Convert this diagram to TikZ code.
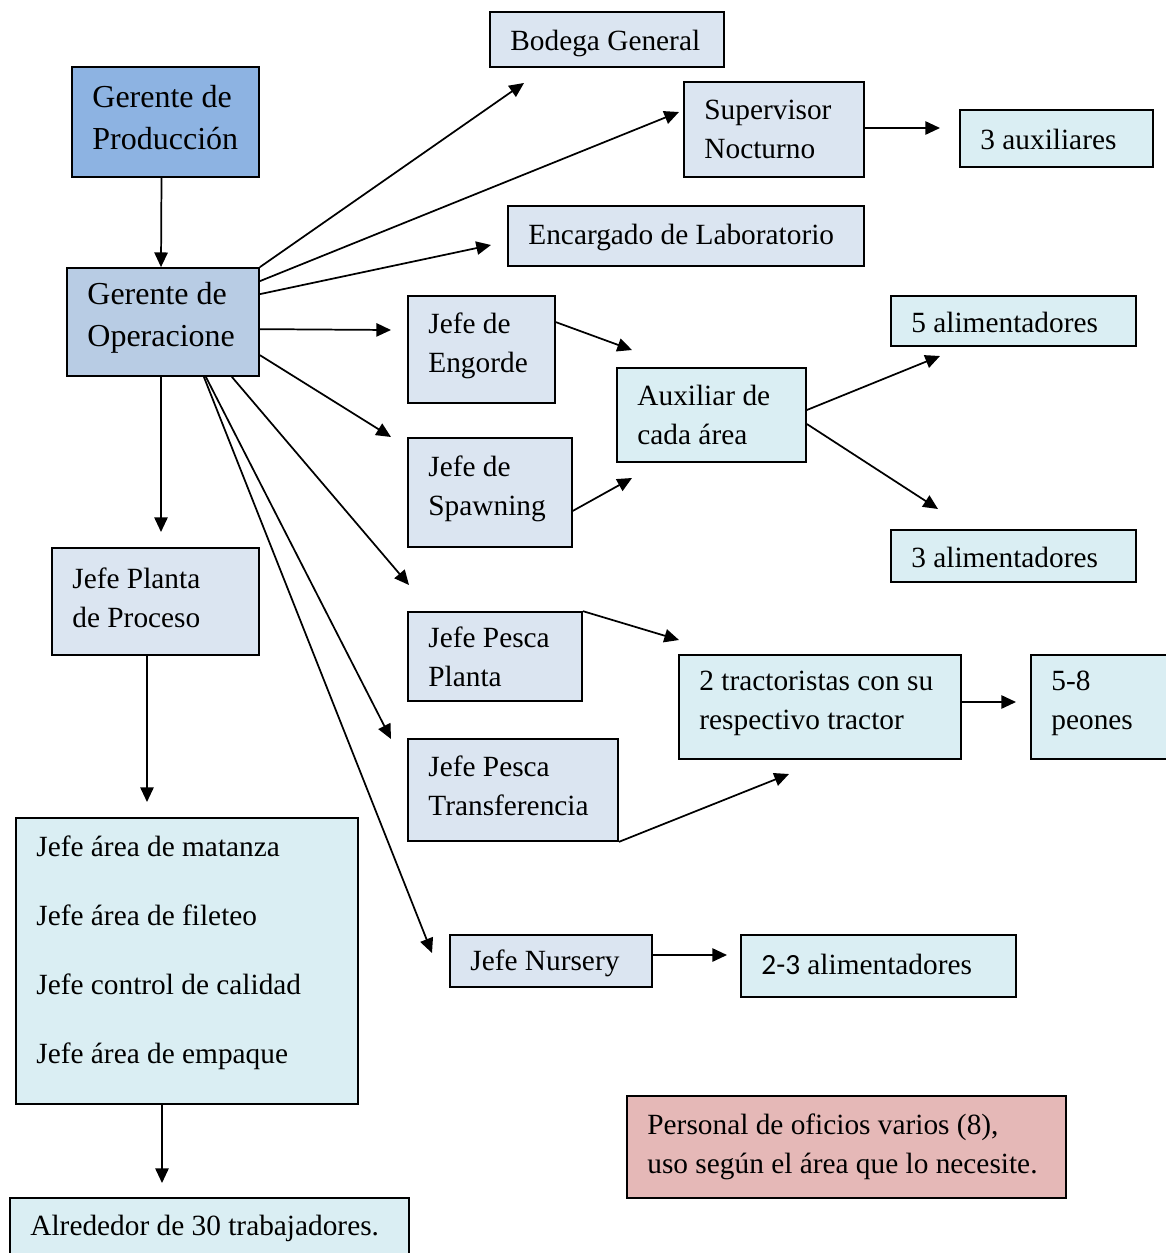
\documentclass[tikz,border=0pt]{standalone}
\usepackage{fontspec}
\setmainfont{Liberation Serif}
\newfontfamily\calib{Carlito}
\usetikzlibrary{arrows.meta,calc}
\definecolor{cGP}{HTML}{8DB3E2}
\definecolor{cGO}{HTML}{B8CCE4}
\definecolor{cJ}{HTML}{DBE5F1}
\definecolor{cA}{HTML}{DAEEF3}
\definecolor{cR}{HTML}{E5B8B7}
\tikzset{
  box/.style={draw, line width=1.3pt, inner sep=0pt},
  txt/.style={anchor=west, inner sep=0pt, align=left,
    font=\fontsize{22}{29.25}\selectfont},
  bigfont/.style={font=\fontsize{24}{31.5}\selectfont},
  arr/.style={-{Triangle[length=11pt,width=10pt]}, line width=1.3pt},
}
% #1 name, #2-#5 x1 y1 x2 y2 (px), #6 fill, #7 text style, #8 text
\newcommand\mkbox[8]{%
  \pgfmathsetmacro\bW{(#4-#2)*0.75}%
  \pgfmathsetmacro\bH{(#5-#3)*0.75}%
  \node[box,fill=#6,minimum width=\bW pt,minimum height=\bH pt]
    (#1) at ({(#2+#4)/2},{(#3+#5)/2}) {};
  \node[txt,#7] (#1-t) at ($(#1.west)+(21,-4)$) {#8};}
\begin{document}
\begin{tikzpicture}[x=0.75pt,y=-0.75pt]
\useasboundingbox (0,0) rectangle (1166,1253);
\clip (0,0) rectangle (1166,1253);
\fill[white] (0,0) rectangle (1166,1253);
% boxes
\mkbox{gp}{72}{67}{259}{177}{cGP}{bigfont}{Gerente de\\Producción}
\mkbox{go}{67}{268}{259}{376}{cGO}{bigfont}{Gerente de\\Operacione}
\mkbox{bg}{490}{12}{724}{67}{cJ}{yshift=-6pt}{Bodega General}
\mkbox{sn}{684}{82}{864}{177}{cJ}{yshift=-3pt}{Supervisor\\Nocturno}
\mkbox{aux3}{960}{110}{1153}{167}{cA}{yshift=-4pt}{3 auxiliares}
\mkbox{lab}{508}{206}{864}{266}{cJ}{yshift=-4pt}{Encargado de Laboratorio}
\mkbox{eng}{408}{296}{555}{403}{cJ}{}{Jefe de\\Engorde}
\mkbox{spw}{408}{438}{572}{547}{cJ}{}{Jefe de\\Spawning}
\mkbox{aux}{617}{368}{806}{462}{cA}{yshift=-3pt}{Auxiliar de\\cada área}
\mkbox{al5}{891}{296}{1136}{346}{cA}{yshift=-4pt}{5 alimentadores}
\mkbox{al3}{891}{530}{1136}{582}{cA}{yshift=-4pt}{3 alimentadores}
\mkbox{jplp}{52}{548}{259}{655}{cJ}{}{Jefe Planta\\de Proceso}
\mkbox{jpesp}{408}{612}{582}{701}{cJ}{yshift=-3pt}{Jefe Pesca\\Planta}
\mkbox{jpest}{408}{739}{618}{841}{cJ}{}{Jefe Pesca\\Transferencia}
\mkbox{trac}{679}{655}{961}{759}{cA}{}{2 tractoristas con su\\respectivo tractor}
\mkbox{peo}{1031}{655}{1178}{759}{cA}{}{5-8\\peones}
\mkbox{big}{16}{818}{358}{1104}{cA}{font=\fontsize{22}{51.75}\selectfont, yshift=3pt}{Jefe área de matanza\\Jefe área de fileteo\\Jefe control de calidad\\Jefe área de empaque}
\mkbox{alr}{10}{1198}{409}{1262}{cA}{yshift=-2pt}{Alrededor de 30 trabajadores.}
\mkbox{nur}{450}{935}{652}{987}{cJ}{yshift=-5pt}{Jefe Nursery}
\mkbox{al23}{741}{935}{1016}{997}{cA}{yshift=-1.5pt}{{\calib 2-3} alimentadores}
\mkbox{pers}{627}{1096}{1066}{1198}{cR}{yshift=-3pt}{Personal de oficios varios (8),\\uso según el área que lo necesite.}
% free arrow ends
\coordinate (e-bg) at (524,83);
\coordinate (e-sn) at (679,112);
\coordinate (e-lab) at (491,245);
\coordinate (e-eng) at (391,330);
\coordinate (e-spw) at (391,437);
\coordinate (e-pp) at (409,585);
\coordinate (e-pt) at (391,739);
\coordinate (e-nur) at (432,953);
\coordinate (e-jpp) at (161,532);
\coordinate (e-aux3) at (940,128);
\coordinate (e-a1) at (632,350);
\coordinate (e-a2) at (632,478);
\coordinate (e-5a) at (940,356);
\coordinate (e-3a) at (938,509);
\coordinate (e-t1) at (679,640);
\coordinate (e-t2) at (789,774);
\coordinate (e-peo) at (1016,702);
\coordinate (e-23) at (727,955);
\coordinate (e-big) at (147,802);
\coordinate (e-alr) at (162,1183);
% arrows
\draw[arr] ($(gp.south)+(-4,0)$) -- ($(go.north)+(-2,0)$);
\draw[arr] (go.north east) -- (e-bg);
\draw[arr] ($(go.north east)+(0,14)$) -- (e-sn);
\draw[arr] ($(go.north east)+(0,27)$) -- (e-lab);
\draw[arr] ($(go.north east)+(0,62)$) -- (e-eng);
\draw[arr] ($(go.north east)+(0,88)$) -- (e-spw);
\draw[arr] ($(go.south east)+(-28,0)$) -- (e-pp);
\draw[arr] ($(go.south east)+(-54,0)$) -- (e-pt);
\draw[arr] ($(go.south east)+(-56,0)$) -- (e-nur);
\draw[arr] ($(go.south)+(-2,0)$) -- (e-jpp);
\draw[arr] ($(sn.east)+(0,-1.5)$) -- (e-aux3);
\draw[arr] ($(eng.north east)+(0,27)$) -- (e-a1);
\draw[arr] ($(spw.south east)+(0,-37)$) -- (e-a2);
\draw[arr] ($(aux.east)+(0,-5)$) -- (e-5a);
\draw[arr] ($(aux.east)+(0,9)$) -- (e-3a);
\draw[arr] (jpesp.north east) -- (e-t1);
\draw[arr] (jpest.south east) -- (e-t2);
\draw[arr] ($(trac.east)+(0,-5)$) -- (e-peo);
\draw[arr] ($(nur.east)+(0,-6)$) -- (e-23);
\draw[arr] ($(jplp.south)+(-8.5,0)$) -- (e-big);
\draw[arr] ($(big.south)+(-25,0)$) -- (e-alr);
\end{tikzpicture}
\end{document}
